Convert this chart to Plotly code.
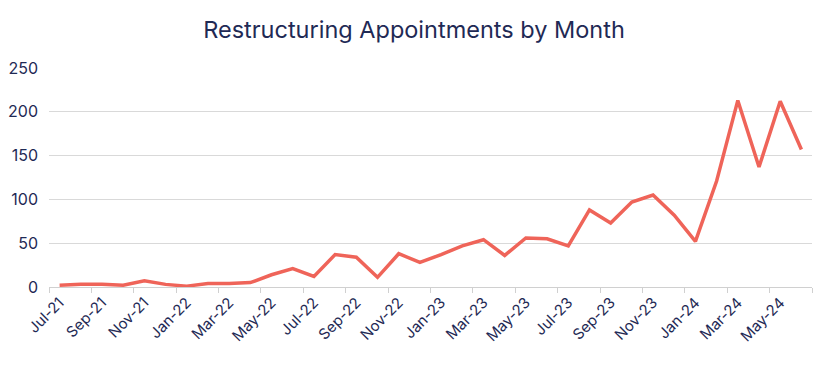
import plotly.graph_objects as go

months = ["Jul-21","Aug-21","Sep-21","Oct-21","Nov-21","Dec-21","Jan-22","Feb-22","Mar-22","Apr-22",
          "May-22","Jun-22","Jul-22","Aug-22","Sep-22","Oct-22","Nov-22","Dec-22","Jan-23","Feb-23",
          "Mar-23","Apr-23","May-23","Jun-23","Jul-23","Aug-23","Sep-23","Oct-23","Nov-23","Dec-23",
          "Jan-24","Feb-24","Mar-24","Apr-24","May-24","Jun-24"]
appointments = [2, 3, 3, 2, 7, 3, 1, 4, 4, 5,
                14, 21, 12, 37, 34, 11, 38, 28, 37, 47,
                54, 36, 56, 55, 47, 88, 73, 97, 105, 82,
                52, 121, 213, 137, 212, 157]
y_ticks = [0, 50, 100, 150, 200, 250]

idx = list(range(len(months)))
label_idx = idx[::2]
label_text = [months[i] for i in label_idx]
boundaries = [i - 0.5 for i in range(0, len(months) + 1, 2)]

text_color = "#1F2A55"
fig = go.Figure()
fig.add_trace(go.Scatter(x=idx, y=appointments, mode="lines",
                         line=dict(color="#EF6459", width=3.5), hoverinfo="y"))

fig.update_layout(
    width=828, height=371,
    paper_bgcolor="white", plot_bgcolor="white",
    margin=dict(l=49, r=16, t=68, b=84, autoexpand=False),
    showlegend=False,
    title=dict(text="Restructuring Appointments by Month", x=0.5, xanchor="center",
               y=0.92, yanchor="middle",
               font=dict(family="Inter, Lato, sans-serif", size=23.5, color=text_color)),
    font=dict(family="Inter, Lato, sans-serif", color=text_color),
)
fig.update_xaxes(range=[-0.5, len(months) - 0.5], tickmode="array", tickvals=label_idx,
                 ticktext=label_text, tickangle=-45, ticks="", showgrid=False,
                 showline=True, linecolor="#D0D0D0", linewidth=1, automargin=False,
                 tickfont=dict(size=15, color=text_color),
                 minor=dict(tickmode="array", tickvals=boundaries, ticks="outside",
                            ticklen=5, tickcolor="#D0D0D0", showgrid=False),
                 zeroline=False)
fig.update_yaxes(range=[0, 250], tickmode="array", tickvals=y_ticks, automargin=False,
                 showgrid=True, gridcolor="#D9D9D9", gridwidth=1, zeroline=False,
                 ticks="", showline=False, tickfont=dict(size=16, color=text_color),
                 ticklabelstandoff=10)

fig.write_html("out.html", config={"displayModeBar": False},
               post_script="document.body.style.margin='0';")
